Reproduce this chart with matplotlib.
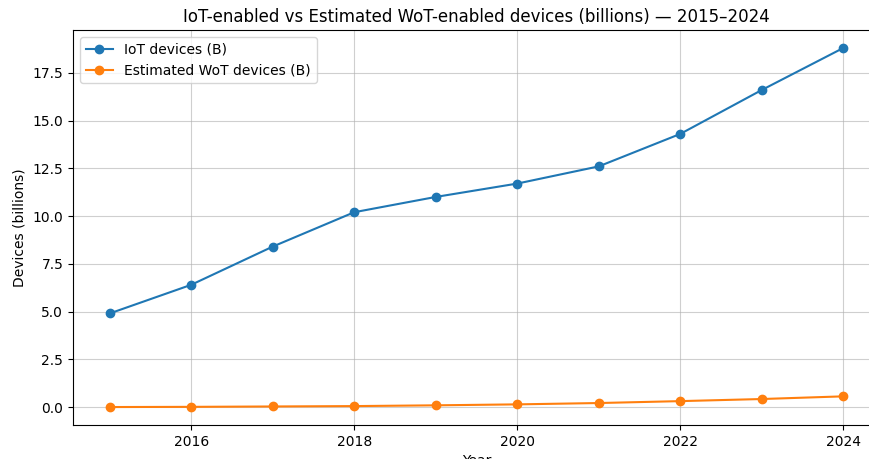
import matplotlib
matplotlib.use("Agg")
import matplotlib.pyplot as plt

years = [2015, 2016, 2017, 2018, 2019, 2020, 2021, 2022, 2023, 2024]
iot = [4.9, 6.4, 8.4, 10.2, 11.0, 11.7, 12.6, 14.3, 16.6, 18.8]
wot = [0.0, 0.01, 0.03, 0.05, 0.09, 0.14, 0.21, 0.31, 0.42, 0.56]

fig = plt.figure(figsize=(8.7, 4.59), dpi=100)
ax = fig.add_axes([73/870, 34/459, (880-73)/870, (425-30)/459])
ax.plot(years, iot, marker='o', label='IoT devices (B)')
ax.plot(years, wot, marker='o', label='Estimated WoT devices (B)')
ax.set_title('IoT-enabled vs Estimated WoT-enabled devices (billions) — 2015–2024', fontsize=12)
ax.set_xlabel('Year', fontsize=10)
ax.set_ylabel('Devices (billions)', fontsize=10)
ax.tick_params(labelsize=10)
ax.grid(True, alpha=0.6)
ax.legend(loc='upper left', fontsize=10)
fig.savefig('out.png', dpi=100)
